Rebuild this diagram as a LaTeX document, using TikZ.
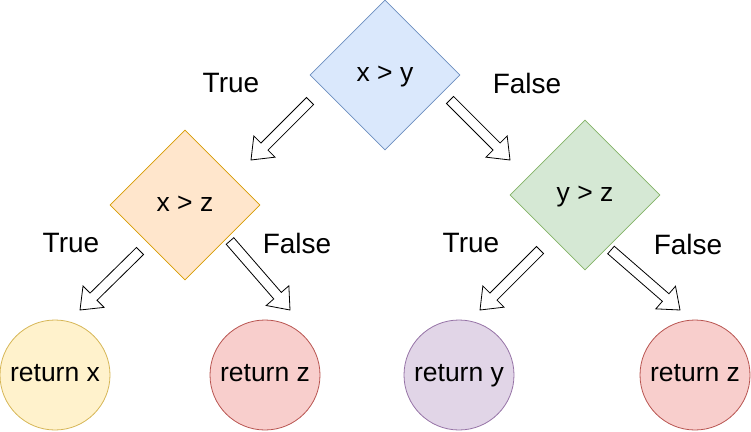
\documentclass[tikz,border=0pt]{standalone}
\usepackage{fontspec}
\setmainfont{Liberation Sans}
\usetikzlibrary{shapes.geometric,calc}
\definecolor{bluefill}{HTML}{DAE8FC}\definecolor{bluedraw}{HTML}{6C8EBF}
\definecolor{orfill}{HTML}{FFE6CC}\definecolor{ordraw}{HTML}{D79B00}
\definecolor{grfill}{HTML}{D5E8D4}\definecolor{grdraw}{HTML}{82B366}
\definecolor{yefill}{HTML}{FFF2CC}\definecolor{yedraw}{HTML}{D6B656}
\definecolor{refill}{HTML}{F8CECC}\definecolor{redraw}{HTML}{B85450}
\definecolor{pufill}{HTML}{E1D5E7}\definecolor{pudraw}{HTML}{9673A6}
\tikzset{
  dia/.style={diamond, draw, line width=0.8pt, minimum width=150pt, minimum height=150pt, inner sep=0pt, text height=19.1pt, text depth=5.3pt, font=\fontsize{26.5}{30}\selectfont},
  circ/.style={circle, draw, line width=0.8pt, minimum size=110pt, inner sep=0pt, text height=19.1pt, text depth=5.3pt, font=\fontsize{26.5}{30}\selectfont},
  lab/.style={anchor=base, inner sep=0pt, font=\fontsize{28}{32}\selectfont},
  flex/.style={draw=black, fill=white, line width=0.8pt, line join=miter}
}
\newcommand\flexarr[1]{%
  \coordinate (#1-h) at ($(#1-e)!19pt!(#1-t)$);
  \draw[flex] ($(#1-t)!5pt!90:(#1-e)$) -- ($(#1-h)!5pt!90:(#1-e)$) -- ($(#1-h)!15pt!90:(#1-e)$)
    -- (#1-e) -- ($(#1-h)!15pt!-90:(#1-e)$) -- ($(#1-h)!5pt!-90:(#1-e)$) -- ($(#1-t)!5pt!-90:(#1-e)$) -- cycle;
}
\begin{document}
\begin{tikzpicture}[x=1pt,y=-1pt]
\useasboundingbox (0,0) rectangle (751,431);
\node[dia, fill=bluefill, draw=bluedraw] (d1) at (385,75) {x > y};
\node[dia, fill=orfill, draw=ordraw] (d2) at (185,205) {x > z};
\node[dia, fill=grfill, draw=grdraw] (d3) at (585,195) {y > z};
\node[circ, fill=yefill, draw=yedraw] (c1) at (55,375) {return x};
\node[circ, fill=refill, draw=redraw] (c2) at (265,375) {return z};
\node[circ, fill=pufill, draw=pudraw] (c3) at (459,375) {return y};
\node[circ, fill=refill, draw=redraw] (c4) at (695,375) {return z};
\node[lab] (l1) at (231,92) {True};
\node[lab] (l2) at (527,93) {False};
\node[lab] (l3) at (71,252) {True};
\node[lab] (l4) at (297,253) {False};
\node[lab] (l5) at (471,252) {True};
\node[lab] (l6) at (688,254) {False};
\coordinate (a1-t) at (310,101); \coordinate (a1-e) at (251,160);
\coordinate (a2-t) at (450,100); \coordinate (a2-e) at (510,160);
\coordinate (a3-t) at (140,251); \coordinate (a3-e) at (80,310);
\coordinate (a4-t) at (230,241); \coordinate (a4-e) at (290,310);
\coordinate (a5-t) at (540,250); \coordinate (a5-e) at (480,310);
\coordinate (a6-t) at (611,250); \coordinate (a6-e) at (680,310);
\flexarr{a1}\flexarr{a2}\flexarr{a3}\flexarr{a4}\flexarr{a5}\flexarr{a6}
\end{tikzpicture}
\end{document}
